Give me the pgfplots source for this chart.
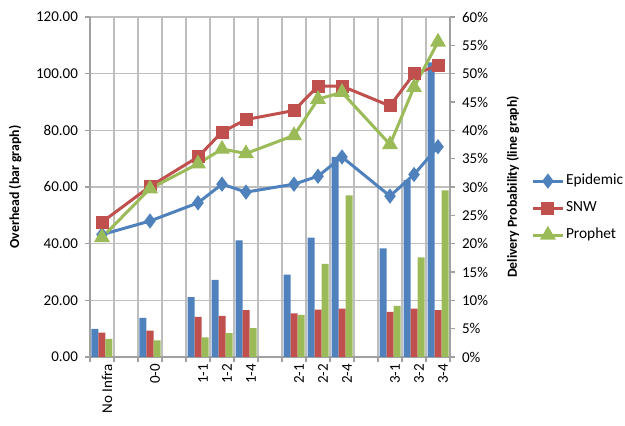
\documentclass[border=0pt]{standalone}
\usepackage{pgfplots}
\pgfplotsset{compat=1.18}
\usepackage{fontspec}
\setmainfont{Carlito}
\definecolor{cblue}{HTML}{4F81BD}
\definecolor{cred}{HTML}{C0504D}
\definecolor{cgreen}{HTML}{9BBB59}
\definecolor{cgrid}{HTML}{BEBEBE}
\definecolor{caxis}{HTML}{A0A0A0}
\begin{document}
\begin{tikzpicture}
\pgfplotsset{
 common/.style={scale only axis, width=180pt, height=170pt, xmin=-0.5, xmax=14.5,
   /pgf/number format/assume math mode=true,
   tick label style={font=\fontsize{7.5}{9}\selectfont, text=black},
   label style={font=\bfseries\fontsize{6.9}{8}\selectfont},
   axis line style={caxis, line width=0.6pt}, tick style={caxis, line width=0.6pt},
   tick align=outside, major tick length=2.5pt,
 }
}
\begin{axis}[common, name=ax,
  ymin=0, ymax=120, ytick={0,20,...,120},
  axis x line*=bottom, axis y line*=left,
  yticklabel style={/pgf/number format/.cd, fixed, fixed zerofill, precision=2},
  ymajorgrids, xmajorgrids, major grid style={cgrid, line width=0.6pt},
  xtick={-0.5,0.5,...,14.5}, xticklabels={},
  extra x ticks={0,2,4,5,6,8,9,10,12,13,14},
  extra x tick labels={No Infra,0-0,1-1,1-2,1-4,2-1,2-2,2-4,3-1,3-2,3-4},
  extra x tick style={major tick length=0pt, grid=none, xticklabel style={rotate=90, anchor=east, yshift=-2.5pt}},
  ylabel={Overhead (bar graph)},
  ylabel style={at={(axis description cs:-0.208,0.5)}, anchor=center},
  ybar=0pt, bar width=3.5pt,
]
\addplot[fill=cblue, draw=none] coordinates {(0,9.9) (2,13.8) (4,21.1) (5,27.2) (6,41.2) (8,29.1) (9,42.1) (10,70.6) (12,38.3) (13,62.4) (14,104)};
\addplot[fill=cred, draw=none] coordinates {(0,8.6) (2,9.3) (4,14.2) (5,14.5) (6,16.5) (8,15.4) (9,16.7) (10,17.1) (12,15.9) (13,17.1) (14,16.5)};
\addplot[fill=cgreen, draw=none] coordinates {(0,6.4) (2,5.9) (4,6.9) (5,8.4) (6,10.2) (8,14.9) (9,32.9) (10,57.0) (12,18.0) (13,35.2) (14,58.8)};
\end{axis}
\begin{axis}[common,
  ymin=0, ymax=60, ytick={0,5,...,60}, yticklabel={\pgfmathprintnumber{\tick}\%},
  axis y line*=right, axis x line=none,
  ylabel={Delivery Probability (line graph)},
  ylabel style={at={(axis description cs:1.175,0.5)}, anchor=center},
  legend style={draw=none, fill=none, at={(1.225,0.438)}, anchor=west, font=\fontsize{7.7}{9}\selectfont, row sep=5.2pt, inner sep=0pt, nodes={inner sep=0.8pt}},
  legend cell align=left,
  legend image code/.code={\draw[mark repeat=2,mark phase=2,#1] plot coordinates {(0pt,0pt) (7.5pt,0pt) (15pt,0pt)};},
]
\addplot[cblue, line width=1.5pt, mark=diamond*, mark size=2.6pt, mark options={solid}] coordinates {(0,21.6) (2,24.0) (4,27.2) (5,30.5) (6,29.1) (8,30.5) (9,31.9) (10,35.3) (12,28.4) (13,32.2) (14,37.1)};
\addplot[cred, line width=1.5pt, mark=square*, mark size=2.5pt, mark options={solid}] coordinates {(0,23.8) (2,30.1) (4,35.3) (5,39.7) (6,41.9) (8,43.5) (9,47.8) (10,47.8) (12,44.3) (13,50.0) (14,51.4)};
\addplot[cgreen, line width=1.5pt, mark=triangle*, mark size=3.1pt, mark options={solid}] coordinates {(0,21.1) (2,29.7) (4,34.1) (5,36.7) (6,35.9) (8,39.1) (9,45.5) (10,46.7) (12,37.5) (13,47.6) (14,55.6)};
\legend{Epidemic,SNW,Prophet}
\end{axis}
\pgfresetboundingbox
\path[use as bounding box] ([shift={(-45pt,-34.5pt)}]ax.south west) rectangle ([shift={(87.5pt,8.5pt)}]ax.north east);
\end{tikzpicture}
\end{document}
